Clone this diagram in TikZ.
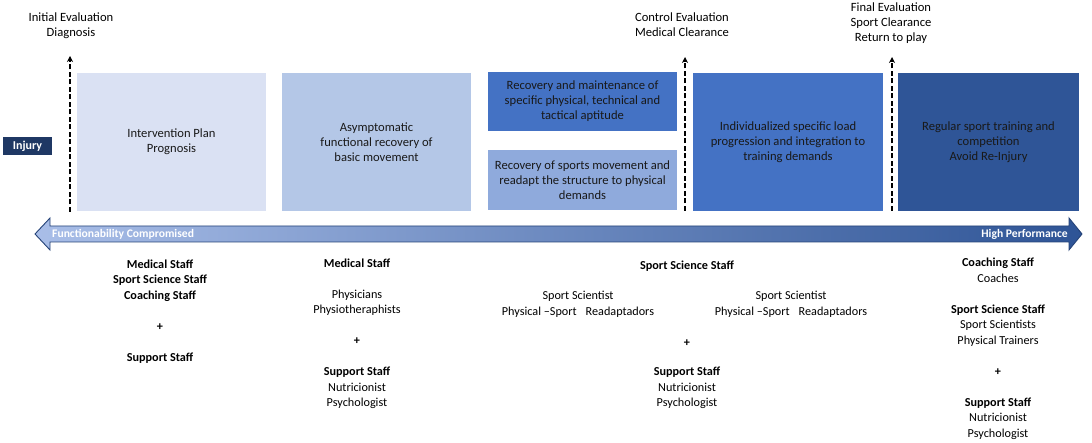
\documentclass[tikz,border=0pt]{standalone}
\usepackage{fontspec}
\setmainfont{Carlito}
\usetikzlibrary{arrows.meta}

\definecolor{phaseA}{HTML}{DAE1F3}
\definecolor{phaseB}{HTML}{B4C7E7}
\definecolor{phaseC}{HTML}{4472C4}
\definecolor{phaseD}{HTML}{8FAADC}
\definecolor{phaseE}{HTML}{2F5597}
\definecolor{injuryblue}{HTML}{1F3864}
\definecolor{axisL}{HTML}{A9BEE8}
\definecolor{axisR}{HTML}{2E5496}

\begin{document}
\begin{tikzpicture}[x=1pt, y=-1pt,
    phase/.style={inner sep=0pt, align=center, text=black!90, font=\fontsize{12.6}{15}\selectfont},
    toplabel/.style={inner sep=0pt, align=center, font=\fontsize{12.6}{15}\selectfont},
    staff/.style={inner sep=0pt, align=center, font=\fontsize{12.2}{15.5}\selectfont},
    milestone/.style={line width=2.5pt, dash pattern=on 5pt off 2.5pt, -{Stealth[length=6pt,width=6pt]}}]
    \useasboundingbox (0,0) rectangle (1092,443);

    % Рисуем фазы восстановления
    \node[phase, fill=phaseA, minimum width=189pt, minimum height=138pt] (plan) at (171.5,142) {Intervention Plan\\Prognosis};
    \node[phase, fill=phaseB, minimum width=189pt, minimum height=138pt] (basic) at (376.5,142) {Asymptomatic\\functional recovery of\\basic movement};
    \node[phase, fill=phaseC, minimum width=189pt, minimum height=59pt] (aptitude) at (582.5,101.5) {Recovery and maintenance of\\specific physical, technical and\\tactical aptitude};
    \node[phase, fill=phaseD, minimum width=189pt, minimum height=60pt] (readapt) at (582.5,180) {Recovery of sports movement and\\readapt the structure to physical\\demands};
    \node[phase, fill=phaseC, minimum width=190pt, minimum height=138pt] (load) at (788,142) {Individualized specific load\\progression and integration to\\training demands};
    \node[phase, fill=phaseE, minimum width=181pt, minimum height=138pt] (regular) at (988.5,142) {Regular sport training and\\competition\\Avoid Re-Injury};

    \node[inner sep=0pt, fill=injuryblue, text=white, minimum width=49pt, minimum height=18pt,
          font=\fontsize{12}{14}\selectfont\bfseries] (injury) at (27.5,146) {Injury};

    % Контрольные точки
    \node[toplabel] (initial) at (71,26) {Initial Evaluation\\Diagnosis};
    \node[toplabel] (control) at (682,24.5) {Control Evaluation\\Medical Clearance};
    \node[toplabel] (final) at (891,23.5) {Final Evaluation\\Sport Clearance\\Return to play};
    \coordinate (initialA) at (70,212);
    \coordinate (initialB) at (70,56);
    \coordinate (controlA) at (685,211);
    \coordinate (controlB) at (685,57);
    \coordinate (finalA) at (892,211);
    \coordinate (finalB) at (892,57);
    \draw[milestone] (initialA) -- (initialB);
    \draw[milestone] (controlA) -- (controlB);
    \draw[milestone] (finalA) -- (finalB);

    % Двойная стрелка
    \path[draw=axisR!80!black, line width=0.9pt, left color=axisL, right color=axisR]
        (35,234) -- (50,218) -- (50,226) -- (1069,226) -- (1069,218) -- (1082,234)
        -- (1069,250) -- (1069,242) -- (50,242) -- (50,250) -- cycle;
    \node[anchor=west, inner sep=0pt, text=white, font=\fontsize{11.6}{14}\selectfont\bfseries] (low) at (52,234) {Functionability Compromised};
    \node[anchor=east, inner sep=0pt, text=white, font=\fontsize{11.6}{14}\selectfont\bfseries] (high) at (1068,234) {High Performance};

    % Персонал
    \node[staff] (staffA) at (160,311.5) {\textbf{Medical Staff}\\\textbf{Sport Science Staff}\\\textbf{Coaching Staff}\\[15.5pt]\textbf{+}\\[15.5pt]\textbf{Support Staff}};
    \node[staff] (staffB) at (357,334) {\textbf{Medical Staff}\\[15.5pt]Physicians\\Physiotheraphists\\[15.5pt]\textbf{+}\\[15.5pt]\textbf{Support Staff}\\Nutricionist\\Psychologist};
    \node[staff] (staffC) at (687,266) {\textbf{Sport Science Staff}};
    \node[staff] (sciA) at (578,304.5) {Sport Scientist\\Physical –Sport\hspace{9pt}Readaptadors};
    \node[staff] (sciB) at (791,304.5) {Sport Scientist\\Physical –Sport\hspace{9pt}Readaptadors};
    \node[staff] (plusC) at (687,343) {\textbf{+}};
    \node[staff] (supportC) at (687,388) {\textbf{Support Staff}\\Nutricionist\\Psychologist};
    \node[staff] (staffD) at (998,349) {\textbf{Coaching Staff}\\Coaches\\[15.5pt]\textbf{Sport Science Staff}\\Sport Scientists\\Physical Trainers\\[15.5pt]\textbf{+}\\[15.5pt]\textbf{Support Staff}\\Nutricionist\\Psychologist};
\end{tikzpicture}
\end{document}
